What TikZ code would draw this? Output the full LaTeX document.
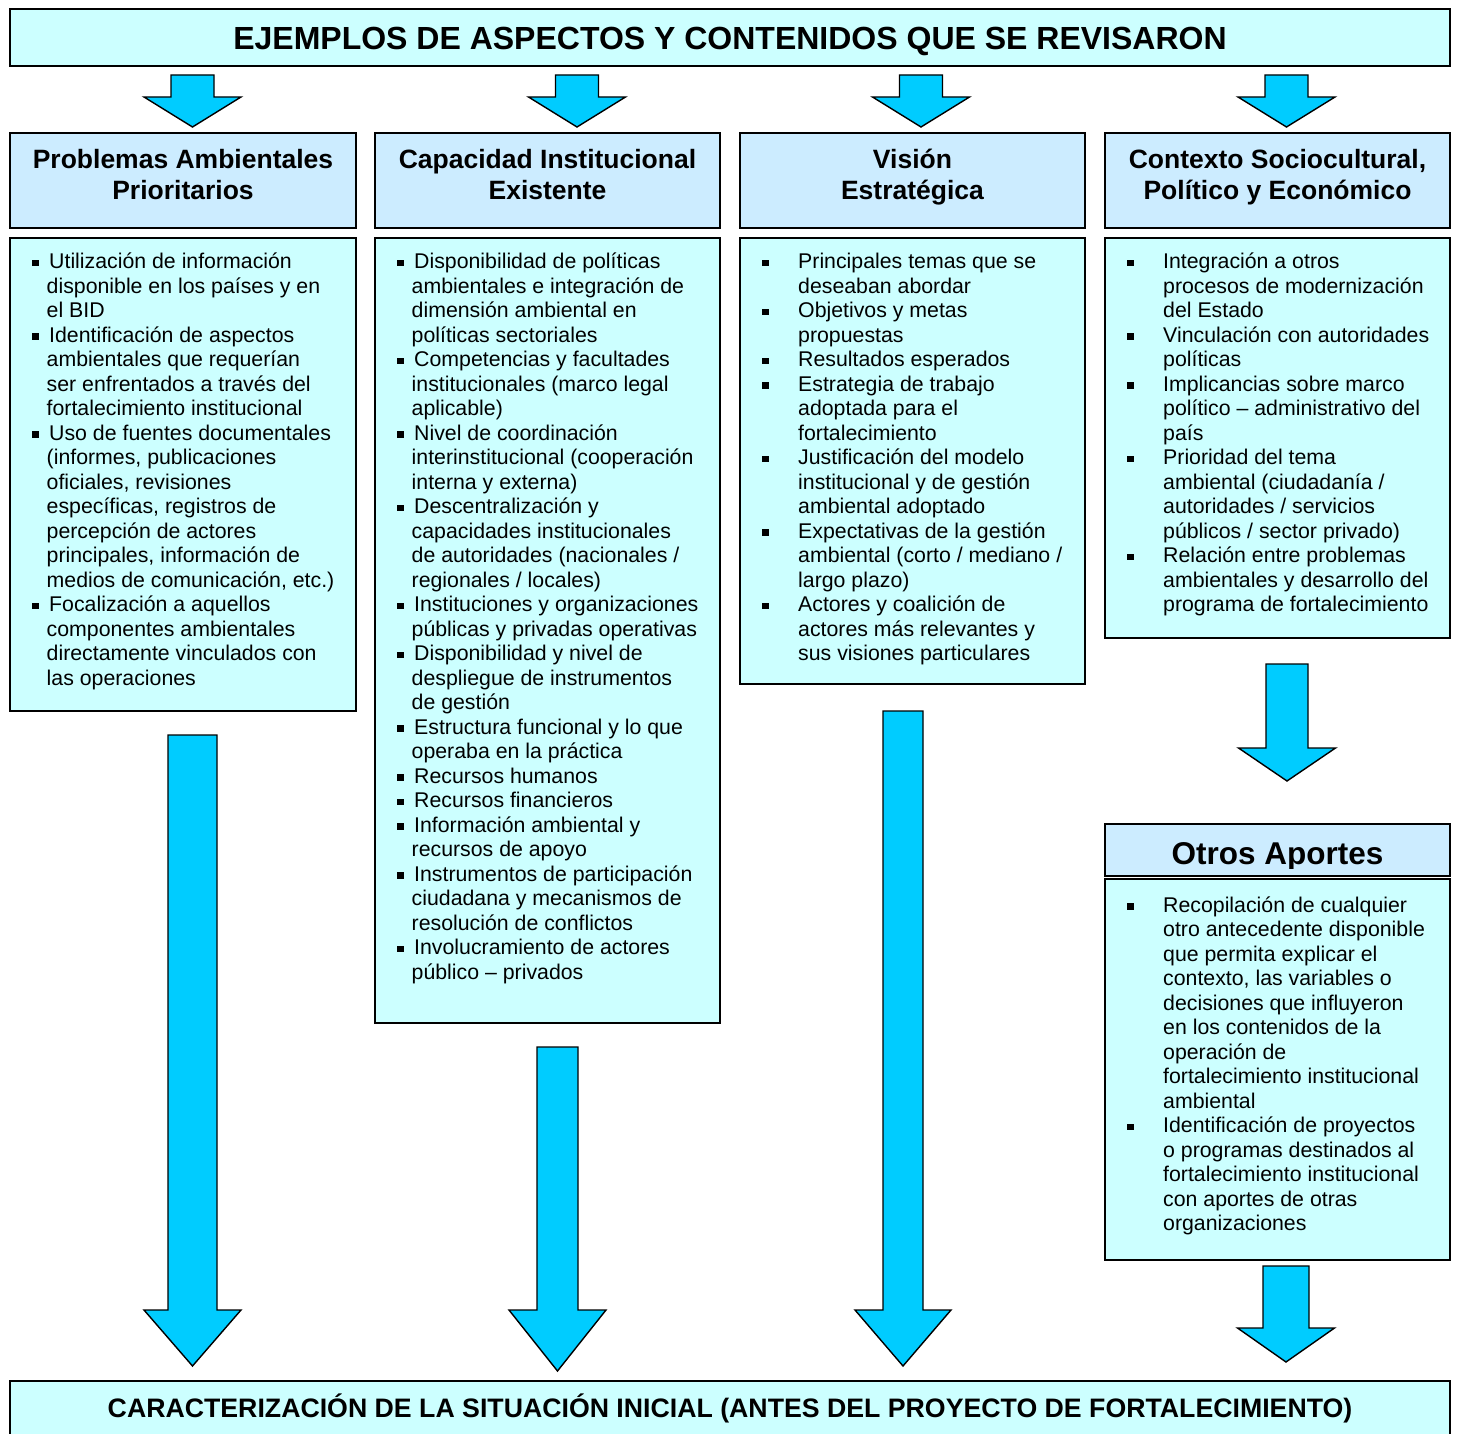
\documentclass[tikz,border=0pt]{standalone}
\usepackage{fontspec}
\setmainfont{Liberation Sans}
\definecolor{lightcyan}{HTML}{CCFFFF}
\definecolor{lightblue}{HTML}{CCECFF}
\definecolor{arrowblue}{HTML}{00CCFF}
\newcommand\sqb{\rule[2.5pt]{6.5pt}{6.5pt}}
\newcommand\itA{\par\hangindent=16.5pt\hangafter=1\noindent\makebox[19pt][l]{\hspace{2pt}\sqb}}
\newcommand\itB{\par\hangindent=38pt\hangafter=1\noindent\makebox[38pt][l]{\hspace{2pt}\sqb}}
\newcommand\nl{\newline}
\newcommand\bodyfont{\fontsize{21.3}{24.5}\selectfont}
\newcommand\barrow[6]{\path[blockarr] ({#1-#5},#2) -- ({#1+#5},#2) -- ({#1+#5},#3) -- ({#1+#6},#3) -- (#1,#4) -- ({#1-#6},#3) -- ({#1-#5},#3) -- cycle;}
\tikzset{
  box/.style={draw=black, line width=1.6pt},
  titlebox/.style={box, fill=lightcyan},
  headbox/.style={box, fill=lightblue},
  contbox/.style={box, fill=lightcyan},
  blockarr/.style={draw=black, line width=1.4pt, fill=arrowblue, line join=miter},
  bodytext/.style={inner sep=0pt, anchor=base west},
  headtext/.style={inner sep=0pt, anchor=base, font=\bfseries\fontsize{26.5}{31.5}\selectfont},
}
\begin{document}
\begin{tikzpicture}[x=1pt,y=-1pt]
\useasboundingbox (0,0) rectangle (1457,1434);
\fill[white] (0,0) rectangle (1457,1434);

% title
\path[titlebox] (10,9) rectangle (1450,66);
\node[inner sep=0pt, anchor=base, font=\bfseries\fontsize{32}{38}\selectfont] (title) at (730,49.5) {EJEMPLOS DE ASPECTOS Y CONTENIDOS QUE SE REVISARON};

% small arrows
\barrow{192.5}{75}{97}{127}{21.5}{48.5}
\barrow{577}{75}{97}{127}{21.5}{48.5}
\barrow{921}{75}{97}{127}{21.5}{48.5}
\barrow{1286.5}{75}{97}{127}{21.5}{48.5}

% header boxes
\path[headbox] (10,133) rectangle (356,228);
\path[headbox] (375,133) rectangle (720,228);
\path[headbox] (740,133) rectangle (1085,228);
\path[headbox] (1105,133) rectangle (1450,228);
\node[headtext] (h1) at (183,168.5) {\parbox[t]{340pt}{\centering Problemas Ambientales\\Prioritarios}};
\node[headtext] (h2) at (547.5,168.5) {\parbox[t]{340pt}{\centering Capacidad Institucional\\Existente}};
\node[headtext] (h3) at (912.5,168.5) {\parbox[t]{340pt}{\centering Visión\\Estratégica}};
\node[headtext] (h4) at (1277.5,168.5) {\parbox[t]{340pt}{\centering Contexto Sociocultural,\\Político y Económico}};

% content boxes
\path[contbox] (10,238) rectangle (356,711);
\path[contbox] (375,238) rectangle (720,1023);
\path[contbox] (740,238) rectangle (1085,684);
\path[contbox] (1105,238) rectangle (1450,638);

\node[bodytext] (c1) at (30,269) {\parbox[t]{330pt}{\bodyfont\raggedright
\itA Utilización de información\nl disponible en los países y en\nl el BID
\itA Identificación de aspectos\nl ambientales que requerían\nl ser enfrentados a través del\nl fortalecimiento institucional
\itA Uso de fuentes documentales\nl (informes, publicaciones\nl oficiales, revisiones\nl específicas, registros de\nl percepción de actores\nl principales, información de\nl medios de comunicación, etc.)
\itA Focalización a aquellos\nl componentes ambientales\nl directamente vinculados con\nl las operaciones}};

\node[bodytext] (c2) at (395,269) {\parbox[t]{330pt}{\bodyfont\raggedright
\itA Disponibilidad de políticas\nl ambientales e integración de\nl dimensión ambiental en\nl políticas sectoriales
\itA Competencias y facultades\nl institucionales (marco legal\nl aplicable)
\itA Nivel de coordinación\nl interinstitucional (cooperación\nl interna y externa)
\itA Descentralización y\nl capacidades institucionales\nl de autoridades (nacionales /\nl regionales / locales)
\itA Instituciones y organizaciones\nl públicas y privadas operativas
\itA Disponibilidad y nivel de\nl despliegue de instrumentos\nl de gestión
\itA Estructura funcional y lo que\nl operaba en la práctica
\itA Recursos humanos
\itA Recursos financieros
\itA Información ambiental y\nl recursos de apoyo
\itA Instrumentos de participación\nl ciudadana y mecanismos de\nl resolución de conflictos
\itA Involucramiento de actores\nl público – privados}};

\node[bodytext] (c3) at (760,269) {\parbox[t]{330pt}{\bodyfont\raggedright
\itB Principales temas que se\nl deseaban abordar
\itB Objetivos y metas\nl propuestas
\itB Resultados esperados
\itB Estrategia de trabajo\nl adoptada para el\nl fortalecimiento
\itB Justificación del modelo\nl institucional y de gestión\nl ambiental adoptado
\itB Expectativas de la gestión\nl ambiental (corto / mediano /\nl largo plazo)
\itB Actores y coalición de\nl actores más relevantes y\nl sus visiones particulares}};

\node[bodytext] (c4) at (1125,269) {\parbox[t]{330pt}{\bodyfont\raggedright
\itB Integración a otros\nl procesos de modernización\nl del Estado
\itB Vinculación con autoridades\nl políticas
\itB Implicancias sobre marco\nl político – administrativo del\nl país
\itB Prioridad del tema\nl ambiental (ciudadanía /\nl autoridades / servicios\nl públicos / sector privado)
\itB Relación entre problemas\nl ambientales y desarrollo del\nl programa de fortalecimiento}};

% column 4 middle arrow
\barrow{1287}{664}{748}{781}{21}{48.5}

% otros aportes
\path[headbox] (1105,824) rectangle (1450,876);
\begin{scope}
\clip (1105,824) rectangle (1450,868);
\node[inner sep=0pt, anchor=base, font=\bfseries\fontsize{31.5}{36}\selectfont] (h5) at (1277.5,864) {Otros Aportes};
\end{scope}
\path[contbox] (1105,879) rectangle (1450,1260);
\node[bodytext] (c5) at (1125,912) {\parbox[t]{330pt}{\bodyfont\raggedright
\itB Recopilación de cualquier\nl otro antecedente disponible\nl que permita explicar el\nl contexto, las variables o\nl decisiones que influyeron\nl en los contenidos de la\nl operación de\nl fortalecimiento institucional\nl ambiental
\itB Identificación de proyectos\nl o programas destinados al\nl fortalecimiento institucional\nl con aportes de otras\nl organizaciones}};

% long arrows
\barrow{192.5}{735}{1310}{1366}{24.5}{48.5}
\barrow{557.5}{1047}{1310}{1371}{20.5}{48.5}
\barrow{903}{711}{1310}{1366}{20}{48}
\barrow{1286}{1266}{1328}{1362}{23}{48.5}

% bottom box
\path[titlebox] (10,1381) rectangle (1450,1438);
\node[inner sep=0pt, anchor=base, font=\bfseries\fontsize{26.7}{31}\selectfont] (bottom) at (730,1417.5) {CARACTERIZACIÓN DE LA SITUACIÓN INICIAL (ANTES DEL PROYECTO DE FORTALECIMIENTO)};
\end{tikzpicture}
\end{document}
